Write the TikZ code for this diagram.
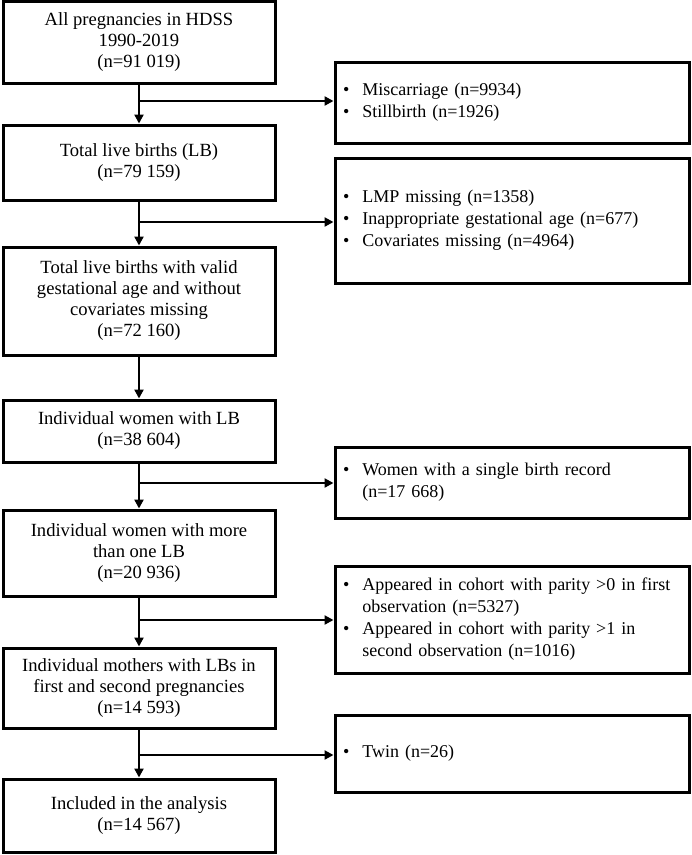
\documentclass[tikz,border=0pt]{standalone}
\usepackage{fontspec}
\setmainfont{Liberation Serif}
\usetikzlibrary{arrows.meta}
\begin{document}
\begin{tikzpicture}[x=1pt,y=-1pt,
  lbox/.style={draw, line width=3pt, minimum width=272pt, align=center, inner sep=0pt,
    font=\fontsize{18.6}{21}\selectfont},
  rbox/.style={draw, line width=3pt, minimum width=354pt, text width=338pt, align=left, inner xsep=8pt, inner ysep=0pt,
    font=\fontsize{18}{22}\selectfont},
  arr/.style={line width=2.5pt, -{Triangle[length=9pt,width=9pt]}},
  ln/.style={line width=2.5pt}]
\useasboundingbox (0,0) rectangle (692,855);
% left column
\node[lbox, minimum height=82pt] (a1) at (139,42) {All pregnancies in HDSS\\1990-2019\\(n=91 019)};
\node[lbox, minimum height=75pt] (a2) at (139,162.5) {Total live births (LB)\\(n=79 159)};
\node[lbox, minimum height=108pt] (a3) at (139,301) {Total live births with valid\\gestational age and without\\covariates missing\\(n=72 160)};
\node[lbox, minimum height=62pt] (a4) at (139,431) {Individual women with LB\\(n=38 604)};
\node[lbox, minimum height=86pt] (a5) at (139,553) {Individual women with more\\than one LB\\(n=20 936)};
\node[lbox, minimum height=80pt] (a6) at (139,688) {Individual mothers with LBs in\\first and second pregnancies\\(n=14 593)};
\node[lbox, minimum height=73pt] (a7) at (139,815.5) {Included in the analysis\\(n=14 567)};
% right column
\node[rbox, minimum height=81pt] (r1) at (512,102.5) {\begin{tabular}{@{}l@{\hspace{13pt}}l@{}}\textbullet & Miscarriage (n=9934)\\ \textbullet & Stillbirth (n=1926)\end{tabular}};
\node[rbox, minimum height=125pt] (r2) at (512,220.5) {\begin{tabular}{@{}l@{\hspace{13pt}}l@{}}\textbullet & LMP missing (n=1358)\\ \textbullet & Inappropriate gestational age (n=677)\\ \textbullet & Covariates missing (n=4964)\end{tabular}};
\node[rbox, minimum height=71pt] (r3) at (512,482.5) {\begin{tabular}{@{}l@{\hspace{13pt}}l@{}}\textbullet & Women with a single birth record\\ & (n=17 668)\end{tabular}};
\node[rbox, minimum height=107pt] (r4) at (512,619.5) {\begin{tabular}{@{}l@{\hspace{13pt}}l@{}}\textbullet & Appeared in cohort with parity >0 in first\\ & observation (n=5327)\\ \textbullet & Appeared in cohort with parity >1 in\\ & second observation (n=1016)\end{tabular}};
\node[rbox, minimum height=77pt] (r5) at (512,753.5) {\begin{tabular}{@{}l@{\hspace{13pt}}l@{}}\textbullet & Twin (n=26)\end{tabular}};
% branch points
\coordinate (b1) at (139,101);
\coordinate (b2) at (139,222);
\coordinate (b3) at (139,483);
\coordinate (b4) at (139,620);
\coordinate (b5) at (139,755);
% vertical arrows
\draw[arr] (a1.south) -- (a2.north);
\draw[arr] (a2.south) -- (a3.north);
\draw[arr] (a3.south) -- (a4.north);
\draw[arr] (a4.south) -- (a5.north);
\draw[arr] (a5.south) -- (a6.north);
\draw[arr] (a6.south) -- (a7.north);
% horizontal arrows
\draw[arr] (b1) -- (b1 -| r1.west);
\draw[arr] (b2) -- (b2 -| r2.west);
\draw[arr] (b3) -- (b3 -| r3.west);
\draw[arr] (b4) -- (b4 -| r4.west);
\draw[arr] (b5) -- (b5 -| r5.west);
\end{tikzpicture}
\end{document}
